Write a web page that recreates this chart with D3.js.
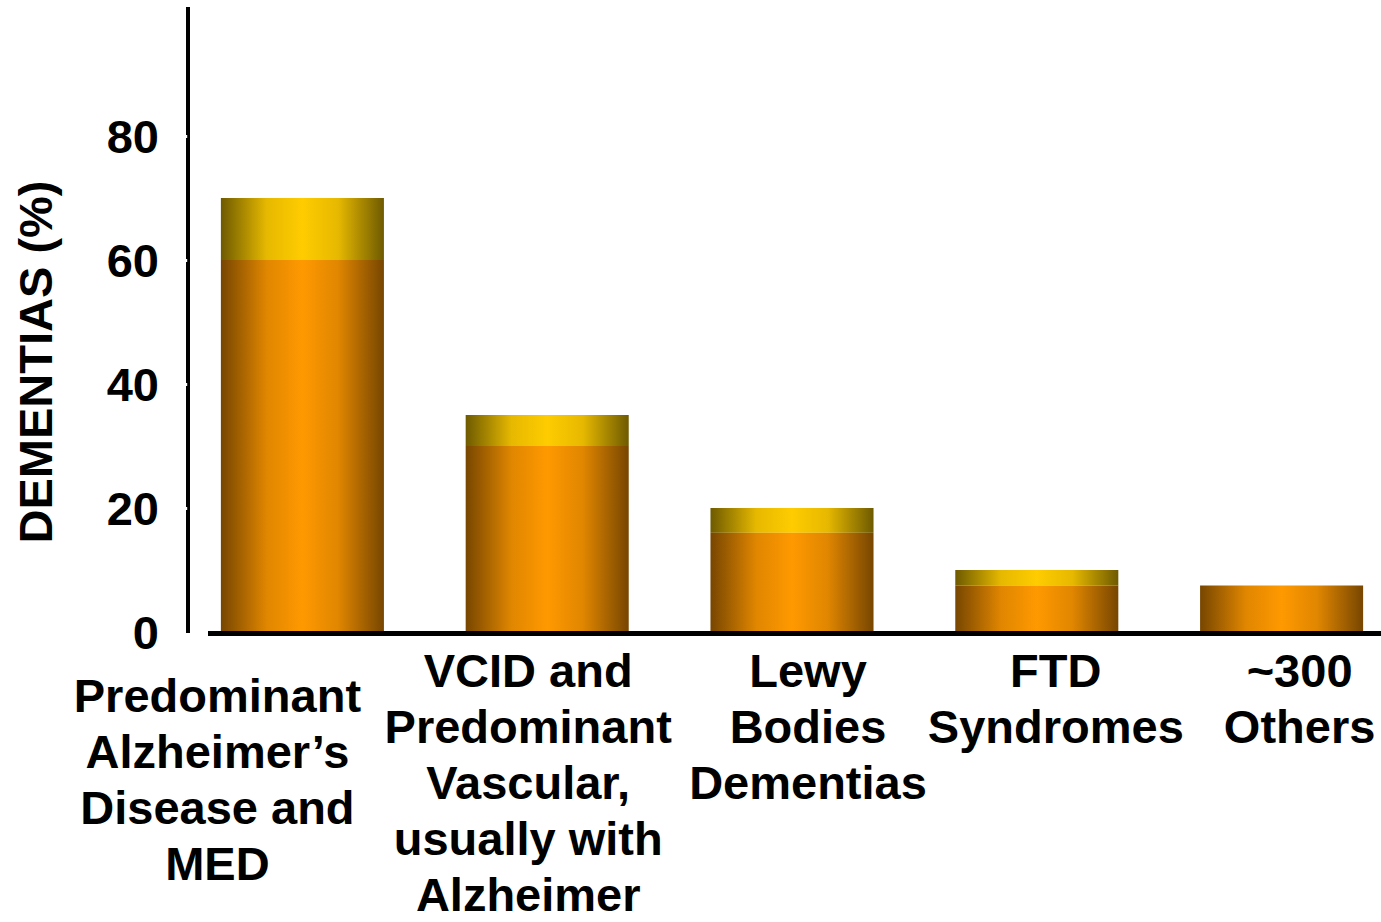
<!DOCTYPE html>
<html>
<head>
<meta charset="utf-8">
<script src="https://cdn.jsdelivr.net/npm/d3@7"></script>
<style>
  html, body { margin: 0; padding: 0; background: #ffffff; }
  svg { display: block; }
  text { font-family: "Liberation Sans", Arial, sans-serif; font-weight: bold; fill: #000; }
</style>
</head>
<body>
<svg id="chart" width="1381" height="922"></svg>
<script>
// Dementia types, each label split into its display lines
const categories = [
  ["Predominant", "Alzheimer’s", "Disease and", "MED"],
  ["VCID and", "Predominant", "Vascular,", "usually with", "Alzheimer"],
  ["Lewy", "Bodies", "Dementias"],
  ["FTD", "Syndromes"],
  ["~300", "Others"]
];
// Lower (core) share of dementias, %
const coreShare = [60, 30, 16, 7.5, 7.5];
// Upper end of the range, %
const upperShare = [70, 35, 20, 10, 7.5];
const yTickValues = [0, 20, 40, 60, 80];
const yTitle = "DEMENTIAS (%)";

// Layout: label nudges relative to each bar's centre
const labelDx = [-85, -19, 16, 19, 18];
const labelDy = [25, 0, 0, 0, 0];

const svg = d3.select("#chart");
const fontSize = 47;
const lineGap = 56;

const y = d3.scaleLinear().domain([0, 100]).range([632, 12]);
const x = d3.scaleBand()
  .domain(d3.range(categories.length))
  .range([180, 1404])
  .paddingInner(0.334)
  .paddingOuter(0.167);

// Horizontal shading gradients for the cylinder-like bars
const defs = svg.append("defs");
function addGradient(id, edge, mid, centre) {
  const g = defs.append("linearGradient").attr("id", id)
    .attr("x1", "0%").attr("x2", "100%").attr("y1", "0%").attr("y2", "0%");
  g.append("stop").attr("offset", "0%").attr("stop-color", edge);
  g.append("stop").attr("offset", "28%").attr("stop-color", mid);
  g.append("stop").attr("offset", "50%").attr("stop-color", centre);
  g.append("stop").attr("offset", "72%").attr("stop-color", mid);
  g.append("stop").attr("offset", "100%").attr("stop-color", edge);
}
addGradient("coreFill", "#774600", "#e08600", "#ff9900");
addGradient("upperFill", "#6e5a00", "#e6b800", "#ffcc00");

const bars = svg.append("g");

// Upper segments (only where the range extends above the core value)
bars.selectAll("rect.upper")
  .data(d3.range(categories.length).filter(i => upperShare[i] > coreShare[i]))
  .join("rect")
  .attr("class", "upper")
  .attr("x", i => x(i))
  .attr("width", x.bandwidth())
  .attr("y", i => y(upperShare[i]))
  .attr("height", i => y(coreShare[i]) - y(upperShare[i]))
  .attr("fill", "url(#upperFill)");

// Core segments
bars.selectAll("rect.core")
  .data(d3.range(categories.length))
  .join("rect")
  .attr("class", "core")
  .attr("x", i => x(i))
  .attr("width", x.bandwidth())
  .attr("y", i => y(coreShare[i]))
  .attr("height", i => y(0) - y(coreShare[i]))
  .attr("fill", "url(#coreFill)");

// Y axis
const yAxis = d3.axisLeft(y)
  .tickValues(yTickValues)
  .tickSizeInner(0)
  .tickSizeOuter(0)
  .tickPadding(29)
  .tickFormat(d3.format("d"));

const yAxisG = svg.append("g")
  .attr("transform", "translate(188,0)")
  .call(yAxis);
yAxisG.select(".domain")
  .attr("stroke", "#000")
  .attr("stroke-width", 4)
  .attr("d", `M0,${y(0) + 1}V7`);
yAxisG.selectAll(".tick text")
  .attr("font-size", fontSize)
  .attr("font-family", "'Liberation Sans', Arial, sans-serif")
  .attr("font-weight", "bold")
  .attr("fill", "#000")
  .attr("dy", "0.36em");
// small light notches on the axis line
yAxisG.selectAll(".tick")
  .filter(d => d > 0)
  .append("line")
  .attr("x1", -2.5).attr("x2", -0.8)
  .attr("stroke", "#ffffff").attr("stroke-width", 3);

// X baseline
svg.append("line")
  .attr("x1", 208).attr("x2", 1381)
  .attr("y1", 633.5).attr("y2", 633.5)
  .attr("stroke", "#000").attr("stroke-width", 5);

// Y axis title
svg.append("text")
  .attr("transform", `translate(52,362) rotate(-90)`)
  .attr("text-anchor", "middle")
  .attr("font-size", fontSize)
  .text(yTitle);

// Category labels
const labels = svg.append("g");
labels.selectAll("text")
  .data(d3.range(categories.length))
  .join("text")
  .attr("text-anchor", "middle")
  .attr("font-size", fontSize)
  .attr("transform", i => `translate(${x(i) + x.bandwidth() / 2 + labelDx[i]},${687 + labelDy[i]})`)
  .each(function (i) {
    d3.select(this).selectAll("tspan")
      .data(categories[i])
      .join("tspan")
      .attr("x", 0)
      .attr("y", (d, k) => k * lineGap)
      .text(d => d);
  });
</script>
</body>
</html>
